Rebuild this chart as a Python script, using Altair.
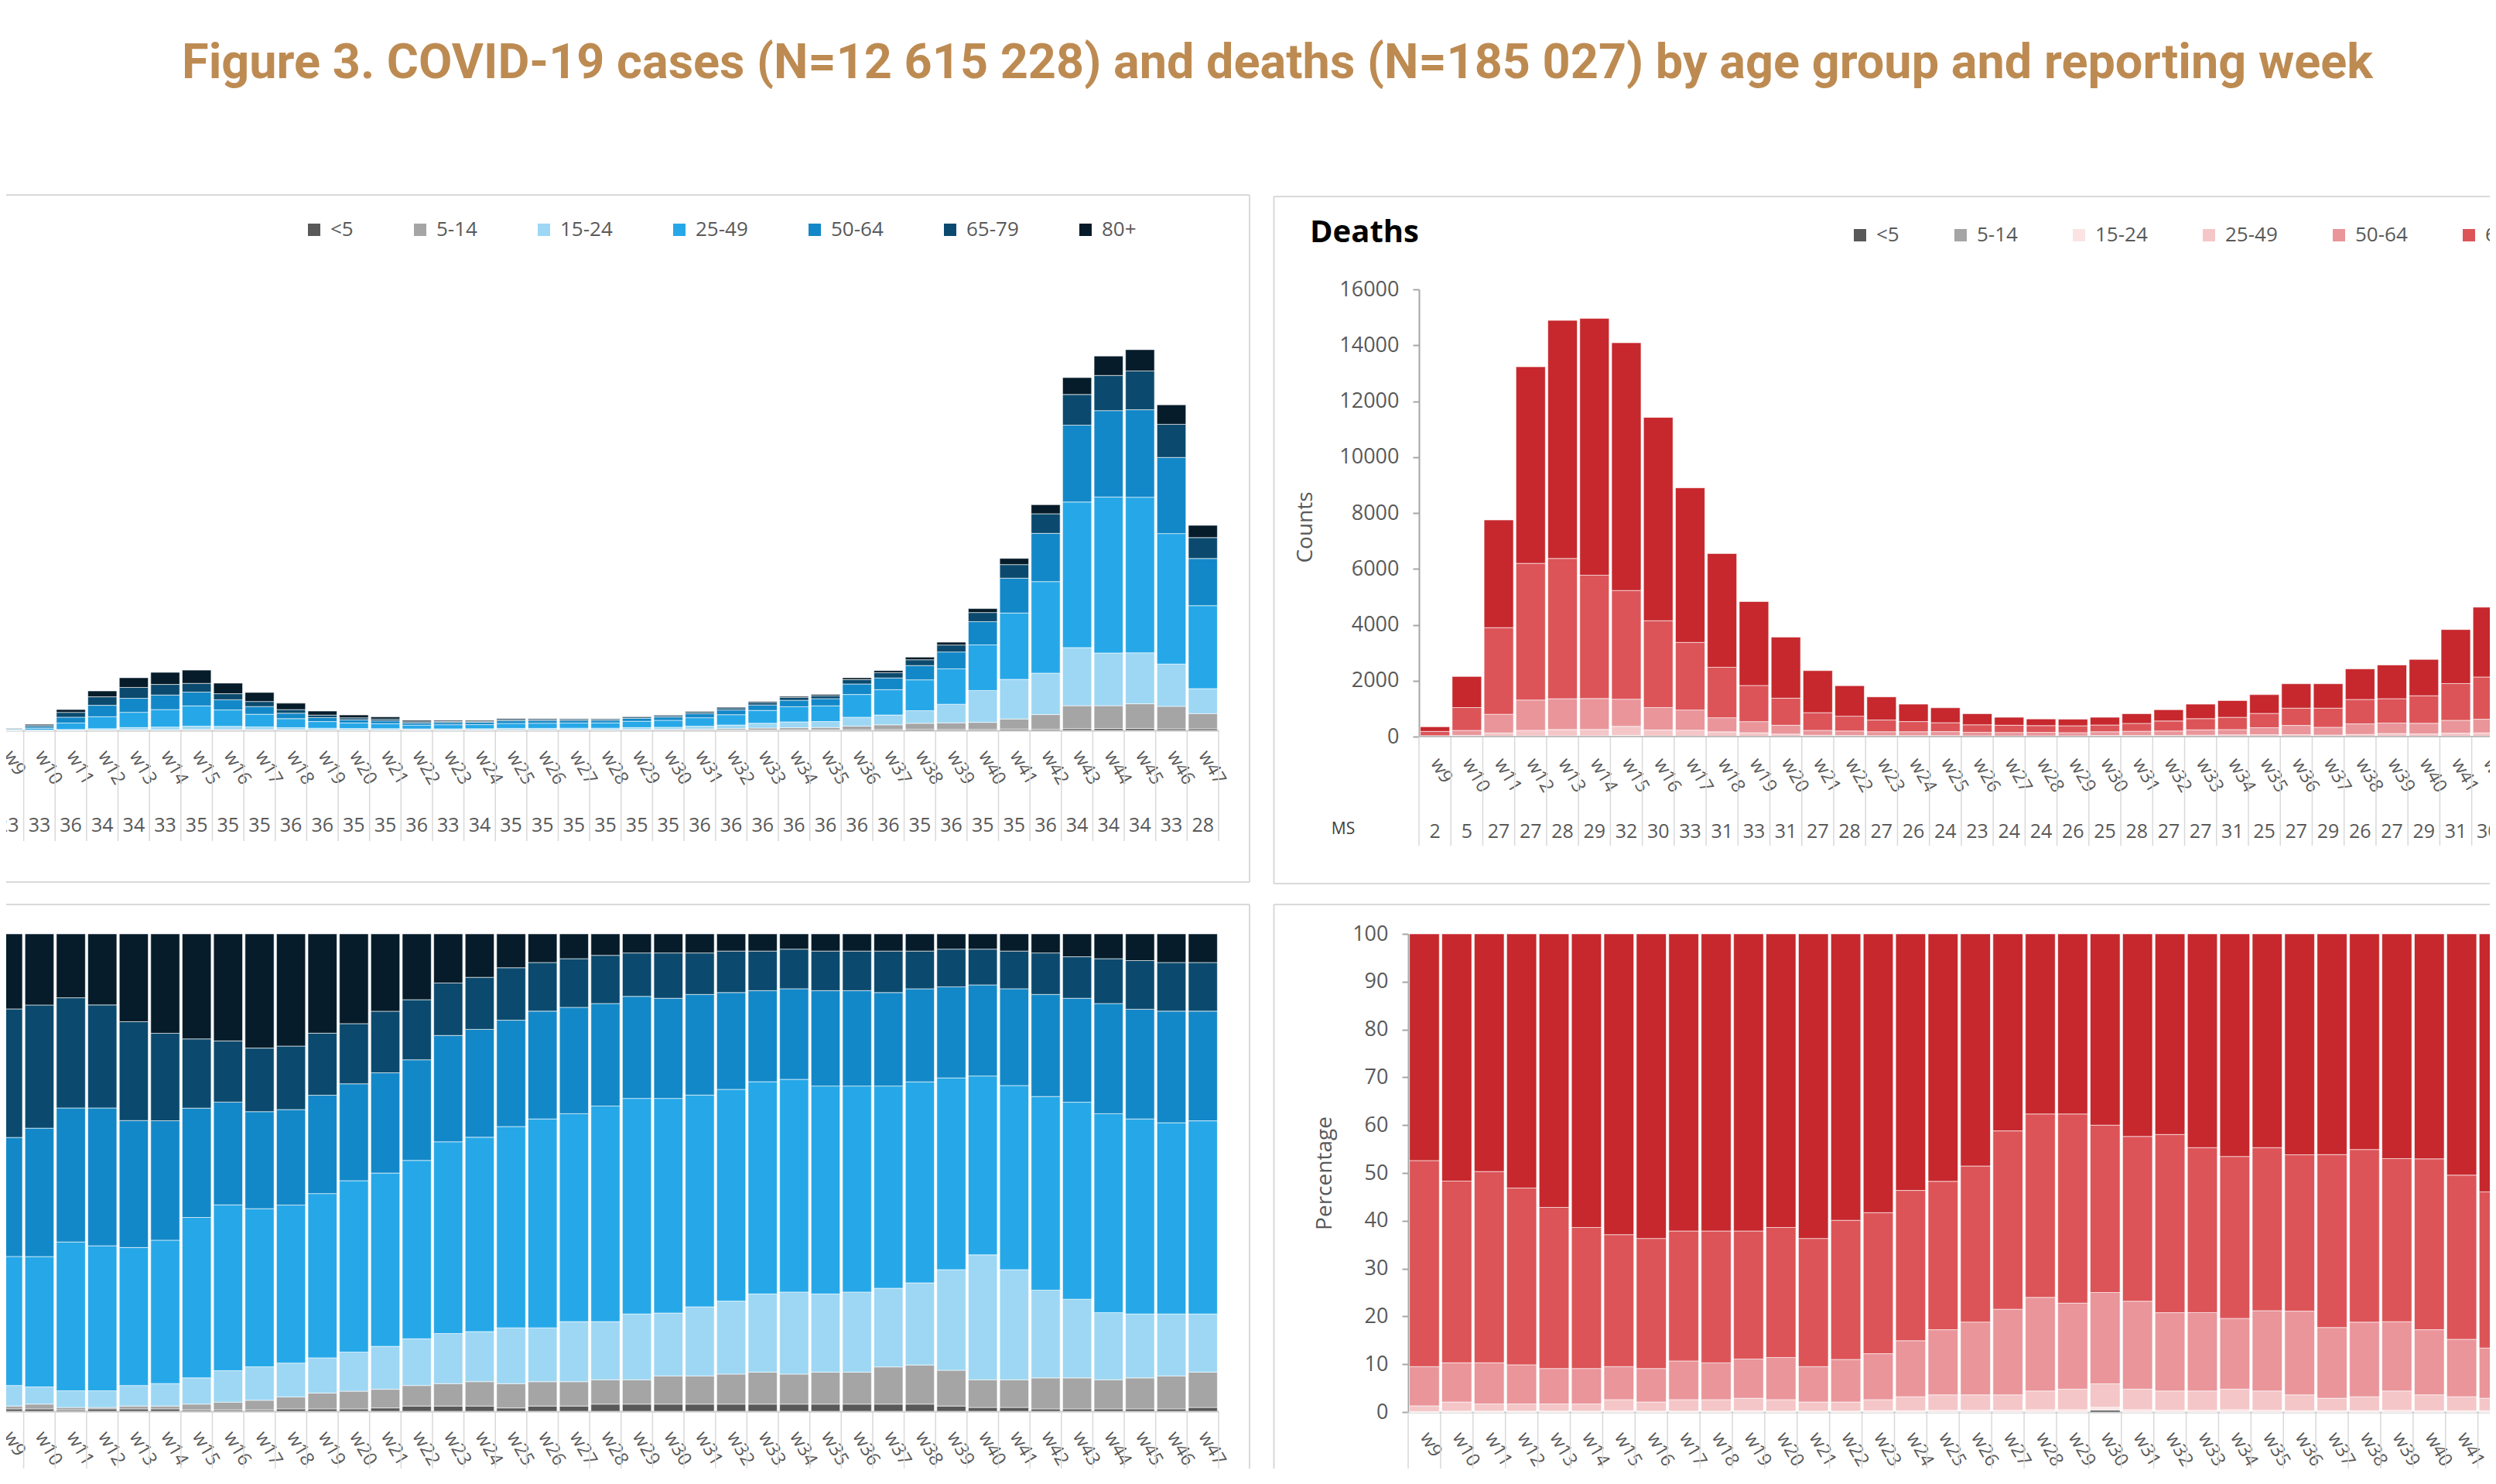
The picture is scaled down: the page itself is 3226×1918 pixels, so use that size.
import altair as alt
import pandas as pd

FONT = "Open Sans"
GREY = "#595959"
FRAME = "#D9D9D9"

title_text = "Figure 3. COVID-19 cases (N=12 615 228) and deaths (N=185 027) by age group and reporting week"

weeks = ["w9", "w10", "w11", "w12", "w13", "w14", "w15", "w16", "w17", "w18",
         "w19", "w20", "w21", "w22", "w23", "w24", "w25", "w26", "w27", "w28",
         "w29", "w30", "w31", "w32", "w33", "w34", "w35", "w36", "w37", "w38",
         "w39", "w40", "w41", "w42", "w43", "w44", "w45", "w46", "w47"]
groups = ["<5", "5-14", "15-24", "25-49", "50-64", "65-79", "80+"]
case_colors = ["#595959", "#A5A5A5", "#9DD7F4", "#26A8E8", "#1388C8", "#0B4A6E", "#061C2A"]
death_colors = ["#595959", "#A5A5A5", "#FBE3E4", "#F4C6C8", "#E9959A", "#DC5458", "#C6282D"]

# ---- cases (counts per week, estimated; y-axis cut off in the reference)
case_total = [9500, 25000, 85000, 161000, 215000, 237000, 246000, 193000, 155000, 111000,
              79000, 63000, 55000, 41000, 41000, 41000, 48000, 48000, 48000, 48000,
              57000, 63000, 78000, 95000, 118000, 139000, 147000, 215000, 244000, 299000,
              360000, 497000, 702000, 921000, 1440000, 1528000, 1554000, 1329000, 837000]
case_ms = [23, 33, 36, 34, 34, 33, 35, 35, 35, 36, 36, 35, 35, 36, 33, 34, 35, 35, 35, 35,
           35, 35, 36, 36, 36, 36, 36, 36, 36, 35, 36, 35, 35, 36, 34, 34, 34, 33, 28]
# ---- cases, share by age group (%)
case_lt5 = [0.5, 0.5, 0.3, 0.5, 0.5, 0.5, 0.3, 0.3, 0.3, 0.5, 0.5, 0.5, 0.7, 1.1, 1.1, 1.1, 0.7, 1.1, 1.1, 1.5,
            1.5, 1.5, 1.5, 1.5, 1.5, 1.5, 1.5, 1.5, 1.5, 1.5, 1.1, 0.8, 0.8, 0.5, 0.5, 0.5, 0.5, 0.5, 0.8]
case_5_14 = [0.6, 1.0, 0.5, 0.3, 0.6, 0.6, 1.2, 1.6, 2.0, 2.5, 3.3, 3.7, 3.9, 4.3, 4.7, 5.1, 5.1, 5.1, 5.1, 5.1,
             5.1, 5.9, 5.9, 6.3, 6.7, 6.3, 6.7, 6.7, 7.8, 8.2, 7.5, 5.8, 5.8, 6.5, 6.5, 6.1, 6.5, 6.9, 7.4]
case_15_24 = [4.3, 3.6, 3.5, 3.5, 4.3, 4.7, 5.5, 6.6, 7.0, 7.1, 7.4, 8.2, 9.0, 9.8, 10.5, 10.5, 11.7, 11.3, 12.6, 12.2,
              13.8, 13.2, 14.5, 15.3, 16.4, 17.2, 16.4, 16.8, 16.5, 17.2, 21.1, 26.2, 23.1, 18.4, 16.5, 14.1, 13.4, 13.0, 12.2]
case_25_49 = [27.0, 27.3, 31.2, 30.4, 28.9, 30.0, 33.6, 34.7, 33.1, 33.1, 34.4, 35.9, 36.3, 37.4, 40.2, 40.7, 42.2, 43.8, 43.6, 45.2,
              45.2, 45.0, 44.4, 44.4, 44.5, 44.6, 43.6, 43.2, 42.4, 42.1, 40.2, 37.5, 38.6, 40.6, 41.3, 41.7, 40.9, 40.1, 40.5]
case_50_64 = [24.9, 26.9, 28.1, 28.9, 26.6, 25.0, 22.9, 21.5, 20.3, 20.0, 20.6, 20.3, 21.0, 21.1, 22.3, 22.6, 22.3, 22.6, 22.3, 21.5,
              21.4, 21.0, 21.1, 20.3, 19.1, 19.0, 20.0, 20.0, 19.6, 19.5, 19.1, 19.1, 20.3, 21.4, 21.8, 23.1, 23.0, 23.4, 23.0]
case_65_79 = [26.9, 25.8, 23.1, 21.6, 20.7, 18.3, 14.5, 12.8, 13.3, 13.3, 13.0, 12.6, 12.9, 12.6, 11.0, 10.9, 11.0, 10.2, 10.2, 10.1,
              9.1, 9.5, 8.7, 8.7, 8.3, 8.3, 8.3, 8.3, 8.7, 7.9, 7.9, 7.5, 7.9, 8.7, 8.7, 9.4, 10.2, 10.2, 10.2]
case_80 = [15.7, 14.9, 13.4, 14.9, 18.4, 20.8, 22.0, 22.4, 23.9, 23.5, 20.8, 18.8, 16.2, 13.8, 10.3, 9.1, 7.1, 6.0, 5.2, 4.5,
           4.0, 4.0, 4.0, 3.6, 3.6, 3.2, 3.6, 3.6, 3.6, 3.6, 3.2, 3.2, 3.6, 4.0, 4.8, 5.2, 5.6, 6.0, 6.0]

# ---- deaths (visible part of the reference: w9 - w42)
death_weeks = weeks[:34]
death_total = [350, 2150, 7750, 13230, 14890, 14960, 14090, 11420, 8900, 6550,
               4830, 3560, 2360, 1820, 1420, 1160, 1030, 820, 690, 630,
               620, 690, 820, 960, 1160, 1290, 1500, 1890, 1890, 2420,
               2560, 2760, 3830, 4630]
death_ms = [2, 5, 27, 27, 28, 29, 32, 30, 33, 31, 33, 31, 27, 28, 27, 26, 24, 23, 24, 24,
            26, 25, 28, 27, 27, 31, 25, 27, 29, 26, 27, 29, 31, 30]
death_lt5 = [0.0, 0.0, 0.0, 0.0, 0.0, 0.0, 0.0, 0.0, 0.0, 0.0, 0.0, 0.0, 0.0, 0.0, 0.0, 0.0, 0.0,
             0.0, 0.0, 0.0, 0.0, 0.4, 0.0, 0.0, 0.0, 0.0, 0.0, 0.0, 0.0, 0.0, 0.0, 0.0, 0.0, 0.0]
death_5_14 = [0.0, 0.0, 0.0, 0.0, 0.0, 0.0, 0.0, 0.0, 0.0, 0.0, 0.0, 0.0, 0.0, 0.0, 0.0, 0.0, 0.0,
              0.0, 0.0, 0.0, 0.0, 0.0, 0.0, 0.0, 0.0, 0.0, 0.0, 0.0, 0.0, 0.0, 0.0, 0.0, 0.0, 0.0]
death_15_24 = [0.1, 0.2, 0.2, 0.2, 0.2, 0.2, 0.3, 0.2, 0.2, 0.2, 0.3, 0.2, 0.2, 0.2, 0.3, 0.3, 0.4,
               0.4, 0.4, 0.5, 0.5, 0.6, 0.5, 0.4, 0.4, 0.5, 0.4, 0.3, 0.3, 0.3, 0.4, 0.3, 0.3, 0.3]
death_25_49 = [1.2, 1.9, 1.5, 1.5, 1.5, 1.5, 2.3, 1.9, 2.4, 2.4, 2.6, 2.4, 1.9, 1.9, 2.3, 2.9, 3.2,
               3.2, 3.2, 3.9, 4.3, 4.9, 4.3, 4.0, 4.0, 4.3, 4.0, 3.3, 2.6, 2.9, 4.0, 3.3, 2.9, 2.6]
death_50_64 = [8.2, 8.2, 8.6, 8.2, 7.4, 7.4, 6.9, 7.0, 8.1, 7.7, 8.2, 8.8, 7.4, 8.9, 9.6, 11.7, 13.6,
               15.2, 17.9, 19.6, 18.0, 19.1, 18.4, 16.4, 16.4, 14.8, 16.8, 17.5, 14.8, 15.6, 14.5, 13.6, 12.0, 10.5]
death_65_79 = [43.1, 38.0, 40.0, 37.0, 33.7, 29.5, 27.6, 27.2, 27.2, 27.6, 26.8, 27.2, 26.8, 29.1, 29.5, 31.4, 31.0,
               32.6, 37.3, 38.4, 39.6, 35.0, 34.5, 37.3, 34.5, 33.9, 34.1, 32.7, 36.2, 36.1, 34.1, 35.7, 34.3, 32.7]
death_80 = [47.4, 51.7, 49.7, 53.2, 57.2, 61.4, 62.9, 63.7, 62.2, 62.2, 62.2, 61.4, 63.7, 59.9, 58.3, 53.6, 51.7,
            48.5, 41.2, 37.7, 37.7, 40.0, 42.4, 42.0, 44.7, 46.6, 44.7, 46.2, 46.2, 45.1, 47.0, 47.0, 50.4, 54.0]

case_shares = [case_lt5, case_5_14, case_15_24, case_25_49, case_50_64, case_65_79, case_80]
death_shares = [death_lt5, death_5_14, death_15_24, death_25_49, death_50_64, death_65_79, death_80]


def long_table(wk, totals, shares):
    rows = []
    for i, w in enumerate(wk):
        s = sum(sh[i] for sh in shares)
        for gi, g in enumerate(groups):
            rows.append({"week": w, "group": g, "gi": gi,
                         "count": totals[i] * shares[gi][i] / s})
    return pd.DataFrame(rows)


cases_df = long_table(weeks, case_total, case_shares)
deaths_df = long_table(death_weeks, death_total, death_shares)
cases_ms_df = pd.DataFrame({"week": weeks, "ms": case_ms})
deaths_ms_df = pd.DataFrame({"week": death_weeks, "ms": death_ms})
sep_df = pd.DataFrame({"week": weeks})
sep_last = pd.DataFrame({"week": [weeks[-1]]})
one = pd.DataFrame({"k": [0]})

# panel geometry (plot areas)
W_TL, H_TL = 1585, 570
W_TR, H_TR = 1622, 578      # bands start 14px right of the column origin
W_BL, H_BL = 1585, 617
W_BR, H_BR = 1634, 618
R_END = 1922                # right end of the right-hand frames (beyond the page)


def xenc(pad, band=None, rng=None, domain_line=True):
    kw = {}
    if band is not None:
        kw["bandPosition"] = band
    sc = dict(domain=weeks, paddingInner=0.08, paddingOuter=0.04)
    if rng is not None:
        sc["range"] = rng
    return alt.X("week:N", sort=weeks, title=None,
                 scale=alt.Scale(**sc),
                 axis=alt.Axis(labelAngle=60, labelAlign="left", labelBaseline="middle",
                               labelPadding=pad, labelFont=FONT, labelFontSize=24,
                               labelColor=GREY, ticks=False, domain=domain_line,
                               domainColor="#BFBFBF", domainWidth=2,
                               labelOverlap=False, labelFlush=False),
                 **kw)


def hline(x1, x2, y, color=FRAME):
    return alt.Chart(one).mark_rule(color=color, strokeWidth=2).encode(
        x=alt.value(x1), x2=alt.value(x2), y=alt.value(y))


def vline(x, y1, y2):
    return alt.Chart(one).mark_rule(color=FRAME, strokeWidth=2).encode(
        x=alt.value(x), y=alt.value(y1), y2=alt.value(y2))


def separators(h, length, xfun):
    a = alt.Chart(sep_df).mark_rule(color=FRAME, strokeWidth=1.5, xOffset=-1.65).encode(
        x=xfun(0), y=alt.value(h), y2=alt.value(h + length))
    b = alt.Chart(sep_last).mark_rule(color=FRAME, strokeWidth=1.5, xOffset=1.65).encode(
        x=xfun(1), y=alt.value(h), y2=alt.value(h + length))
    return [a, b]


def legend(x, y, cp):
    return alt.Legend(orient="none", legendX=x, legendY=y, direction="horizontal",
                      title=None, symbolType="square", symbolSize=256,
                      symbolStrokeWidth=0, labelFont=FONT, labelFontSize=26,
                      labelColor=GREY, labelOffset=8, columnPadding=cp, padding=0)


def ms_text(df, h, xfun):
    return alt.Chart(df).mark_text(font=FONT, fontSize=25, color=GREY, baseline="middle").encode(
        x=xfun(None), y=alt.value(h + 123), text="ms:N")


bar_style = dict(stroke="white", strokeWidth=1, strokeOpacity=0.6)


def x_tl(band=None):
    return xenc(28, band)


def x_tr(band=None):
    return xenc(30, band, rng=[14, W_TR], domain_line=False)


def x_bl(band=None):
    return xenc(28, band)


def x_br(band=None):
    return xenc(28, band)


# ---------------- top-left: cases counts
tl_bars = alt.Chart(cases_df).mark_bar(**bar_style).encode(
    x=x_tl(),
    y=alt.Y("count:Q", stack="zero", scale=alt.Scale(domain=[0, 1800000]), axis=None),
    color=alt.Color("group:N", scale=alt.Scale(domain=groups, range=case_colors),
                    legend=legend(403, -90, 73)),
    order=alt.Order("gi:Q", sort="ascending"),
)
tl_title = alt.Chart(pd.DataFrame({"t": [title_text]})).mark_text(
    font="Roboto", fontSize=63, fontWeight="bold", color="#BD8B52",
    align="center", baseline="alphabetic").encode(
    text="t:N", x=alt.value(1661), y=alt.value(-273))
tl = alt.layer(
    tl_bars, ms_text(cases_ms_df, H_TL, x_tl), *separators(H_TL, 143, x_tl),
    hline(-40, W_TL + 40, -122), vline(W_TL + 40, -122, 766), hline(-40, W_TL + 40, 766),
    vline(-40, -366, 766), tl_title,
).properties(width=W_TL, height=H_TL)

# ---------------- top-right: deaths counts
tr_bars = alt.Chart(deaths_df).mark_bar(**bar_style).encode(
    x=x_tr(),
    y=alt.Y("count:Q", stack="zero", scale=alt.Scale(domain=[0, 16000]),
            axis=alt.Axis(values=list(range(0, 16001, 2000)), format="d", offset=-14,
                          labelFont=FONT, labelFontSize=27,
                          labelColor=GREY, tickColor="#A6A6A6", tickSize=8, tickWidth=2,
                          domainColor="#A6A6A6", domainWidth=2, labelPadding=18, grid=False,
                          title="Counts", titleFont=FONT, titleFontSize=28, titleColor=GREY,
                          titleFontWeight="normal", titleAngle=270, titleX=-147, titleY=307,
                          titleAlign="center", titleBaseline="middle")),
    color=alt.Color("group:N", scale=alt.Scale(domain=groups, range=death_colors),
                    legend=legend(571, -83, 66)),
    order=alt.Order("gi:Q", sort="ascending"),
)
tr_head = alt.Chart(pd.DataFrame({"t": ["Deaths"]})).mark_text(
    font=FONT, fontSize=40, fontWeight="bold", color="black", align="left",
    baseline="alphabetic").encode(text="t:N", x=alt.value(-127), y=alt.value(-61))
tr_ms_label = alt.Chart(pd.DataFrame({"t": ["MS"]})).mark_text(
    font=FONT, fontSize=21, color="#404040", align="center", baseline="middle").encode(
    text="t:N", x=alt.value(-84), y=alt.value(H_TR + 120))
tr = alt.layer(
    tr_bars, ms_text(deaths_ms_df, H_TR, x_tr), *separators(H_TR, 141, x_tr), tr_ms_label, tr_head,
    hline(14, W_TR, H_TR, color="#BFBFBF"),
    hline(-173.5, R_END, -120), vline(-173.5, -120, 768), hline(-173.5, R_END, 768),
).properties(width=W_TR, height=H_TR)

# ---------------- bottom-left: cases percentage
bl_bars = alt.Chart(cases_df).mark_bar(**bar_style).encode(
    x=x_bl(),
    y=alt.Y("count:Q", stack="normalize", scale=alt.Scale(domain=[0, 1]), axis=None),
    color=alt.Color("group:N", scale=alt.Scale(domain=groups, range=case_colors), legend=None),
    order=alt.Order("gi:Q", sort="ascending"),
)
bl = alt.layer(
    bl_bars, *separators(H_BL, 220, x_bl),
    hline(-40, W_BL + 40, -38), vline(W_BL + 40, -38, H_BL + 220), vline(-40, -38, H_BL + 220),
).properties(width=W_BL, height=H_BL)

# ---------------- bottom-right: deaths percentage
br_bars = alt.Chart(deaths_df).mark_bar(**bar_style).encode(
    x=x_br(),
    y=alt.Y("count:Q", stack="normalize", scale=alt.Scale(domain=[0, 1]),
            axis=alt.Axis(values=[0, 0.1, 0.2, 0.3, 0.4, 0.5, 0.6, 0.7, 0.8, 0.9, 1.0],
                          labelExpr="round(datum.value * 100)", labelFont=FONT, labelFontSize=27,
                          labelColor=GREY, tickColor="#A6A6A6", tickSize=8, tickWidth=2,
                          domainColor="#A6A6A6", domainWidth=2, labelPadding=18, grid=False,
                          title="Percentage", titleFont=FONT, titleFontSize=28, titleColor=GREY,
                          titleFontWeight="normal", titleAngle=270, titleX=-108, titleY=309,
                          titleAlign="center", titleBaseline="middle")),
    color=alt.Color("group:N", scale=alt.Scale(domain=groups, range=death_colors), legend=None),
    order=alt.Order("gi:Q", sort="ascending"),
)
br = alt.layer(
    br_bars, *separators(H_BR, 220, x_br),
    hline(-173.5, R_END, -38), vline(-173.5, -38, H_BR + 220),
).properties(width=W_BR, height=H_BR)

chart = alt.concat(
    tl, tr, bl, br, columns=2, spacing={"row": 255, "column": 245},
    bounds="flush", align="each",
).resolve_scale(
    color="independent", x="independent", y="independent"
).properties(
    padding={"left": -59, "top": -1, "right": -525, "bottom": -148}
).configure(background="white").configure_view(stroke=None)

chart.save("out.html", embed_options={"renderer": "svg", "actions": False})
